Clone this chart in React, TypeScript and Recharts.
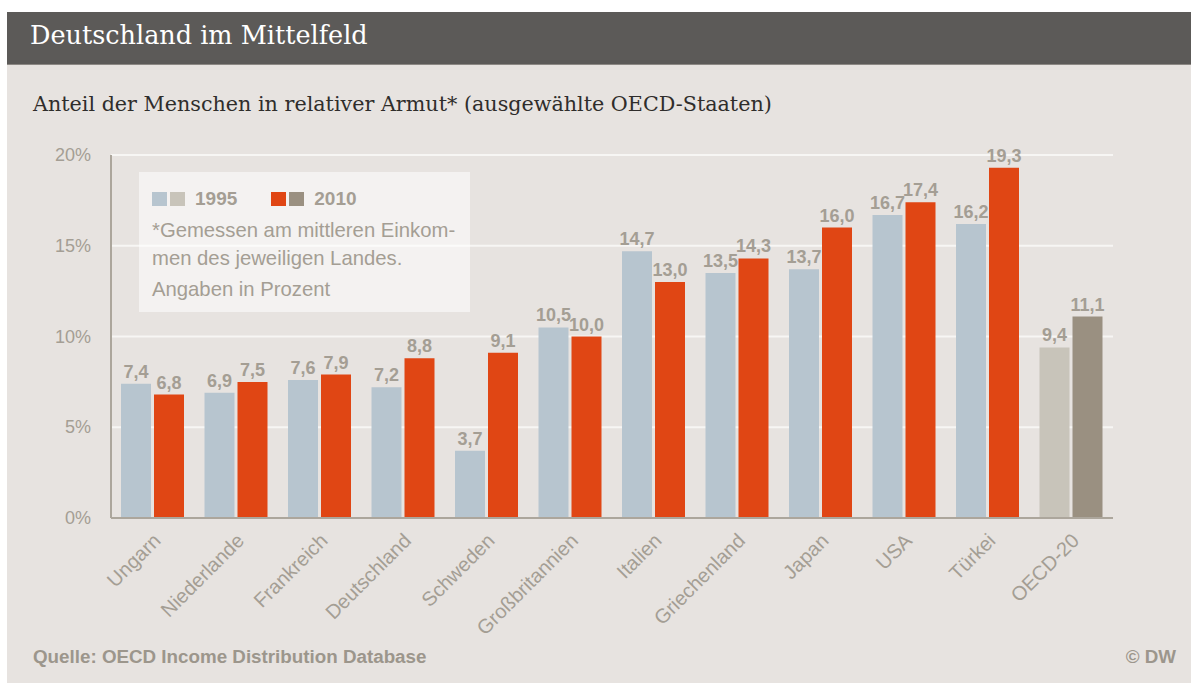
import { BarChart, Bar, XAxis, YAxis, CartesianGrid, LabelList, Cell } from "recharts";

const categories = [
  "Ungarn", "Niederlande", "Frankreich", "Deutschland", "Schweden", "Großbritannien",
  "Italien", "Griechenland", "Japan", "USA", "Türkei", "OECD-20",
];
const values1995 = [7.4, 6.9, 7.6, 7.2, 3.7, 10.5, 14.7, 13.5, 13.7, 16.7, 16.2, 9.4];
const values2010 = [6.8, 7.5, 7.9, 8.8, 9.1, 10.0, 13.0, 14.3, 16.0, 17.4, 19.3, 11.1];
const yTicks = [0, 5, 10, 15, 20];

const BLUE = "#b7c5cf";
const RED = "#e04614";
const OECD_LIGHT = "#c8c4ba";
const OECD_DARK = "#9a9081";
const TEXT_GRAY = "#a49e94";
const SANS = "Arial, 'Liberation Sans', sans-serif";

const data = categories.map((name, i) => ({ name, v1995: values1995[i], v2010: values2010[i] }));

const fmt = (v: number) => v.toFixed(1).replace(".", ",");

// eslint-disable-next-line @typescript-eslint/no-explicit-any
function XTick({ x, y, payload }: any) {
  return (
    <g transform={`translate(${x + 9},${y + 16})`}>
      <text textAnchor="end" transform="rotate(-45)" fill={TEXT_GRAY} fontSize={20} fontFamily={SANS}>
        {payload.value}
      </text>
    </g>
  );
}

// eslint-disable-next-line @typescript-eslint/no-explicit-any
function YTick({ x, y, payload }: any) {
  return (
    <text x={x - 12} y={y} dy={6} textAnchor="end" fill={TEXT_GRAY} fontSize={18} fontFamily={SANS}>
      {payload.value}%
    </text>
  );
}

const labelStyle = { fill: TEXT_GRAY, fontSize: 18, fontWeight: 700, fontFamily: SANS };

export default function App() {
  return (
    <div style={{ position: "absolute", left: 0, top: 0, width: 1191, height: 683, background: "#fff" }}>
      <div style={{ position: "absolute", left: 7, top: 12, right: 0, bottom: 0, background: "#e7e3e0" }} />
      <div style={{
        position: "absolute", left: 7, top: 12, right: 0, height: 52,
        background: "#5c5a58", borderBottom: "1px solid #8c8884",
      }} />
      <div style={{
        position: "absolute", left: 30, top: 20, color: "#fff",
        fontFamily: "'DejaVu Serif', serif", fontSize: 25.5,
      }}>
        Deutschland im Mittelfeld
      </div>
      <div style={{
        position: "absolute", left: 33, top: 92, color: "#2f2d2b",
        fontFamily: "'DejaVu Serif', serif", fontSize: 20.7,
      }}>
        Anteil der Menschen in relativer Armut* (ausgewählte OECD-Staaten)
      </div>

      <div style={{ position: "absolute", left: 0, top: 0 }}>
        <BarChart
          width={1191}
          height={683}
          data={data}
          margin={{ top: 155, right: 78, left: 51, bottom: 65 }}
          barCategoryGap={10}
          barGap={3}
        >
          <CartesianGrid horizontal vertical={false} stroke="#f7f6f4" strokeWidth={2} />
          <XAxis
            dataKey="name"
            height={100}
            interval={0}
            tickLine={false}
            axisLine={{ stroke: "#aca69c", strokeWidth: 2 }}
            tick={<XTick />}
          />
          <YAxis
            width={60}
            domain={[0, 20]}
            ticks={yTicks}
            tickLine={false}
            axisLine={{ stroke: "#aca69c", strokeWidth: 2 }}
            tick={<YTick />}
          />
          <Bar dataKey="v1995" fill={BLUE} isAnimationActive={false}>
            {data.map((d) => (
              <Cell key={d.name} fill={d.name === "OECD-20" ? OECD_LIGHT : BLUE} />
            ))}
            <LabelList dataKey="v1995" position="top" offset={6} formatter={(v: number) => fmt(v)} style={labelStyle} />
          </Bar>
          <Bar dataKey="v2010" fill={RED} isAnimationActive={false}>
            {data.map((d) => (
              <Cell key={d.name} fill={d.name === "OECD-20" ? OECD_DARK : RED} />
            ))}
            <LabelList dataKey="v2010" position="top" offset={6} formatter={(v: number) => fmt(v)} style={labelStyle} />
          </Bar>
        </BarChart>
      </div>

      <div style={{
        position: "absolute", left: 139, top: 172, width: 331, height: 140,
        background: "rgba(255,255,255,0.55)", fontFamily: SANS, color: TEXT_GRAY,
      }}>
        <div style={{ position: "absolute", left: 13, top: 16, display: "flex", alignItems: "center" }}>
          <span style={{ width: 15, height: 14, background: BLUE, marginRight: 3 }} />
          <span style={{ width: 15, height: 14, background: OECD_LIGHT, marginRight: 10 }} />
          <span style={{ fontSize: 19, fontWeight: 700, marginRight: 34 }}>1995</span>
          <span style={{ width: 15, height: 14, background: RED, marginRight: 3 }} />
          <span style={{ width: 15, height: 14, background: OECD_DARK, marginRight: 10 }} />
          <span style={{ fontSize: 19, fontWeight: 700 }}>2010</span>
        </div>
        <div style={{ position: "absolute", left: 13, top: 44, fontSize: 20.3, lineHeight: "28px", whiteSpace: "nowrap" }}>
          *Gemessen am mittleren Einkom-<br />men des jeweiligen Landes.
        </div>
        <div style={{ position: "absolute", left: 13, top: 106, fontSize: 20.3, whiteSpace: "nowrap" }}>Angaben in Prozent</div>
      </div>

      <div style={{
        position: "absolute", left: 33, top: 646, fontFamily: SANS, fontSize: 18.8,
        fontWeight: 700, color: "#9c968c",
      }}>
        Quelle: OECD Income Distribution Database
      </div>
      <div style={{
        position: "absolute", right: 15, top: 646, fontFamily: SANS, fontSize: 18.8,
        fontWeight: 700, color: "#9c968c",
      }}>
        © DW
      </div>
    </div>
  );
}
